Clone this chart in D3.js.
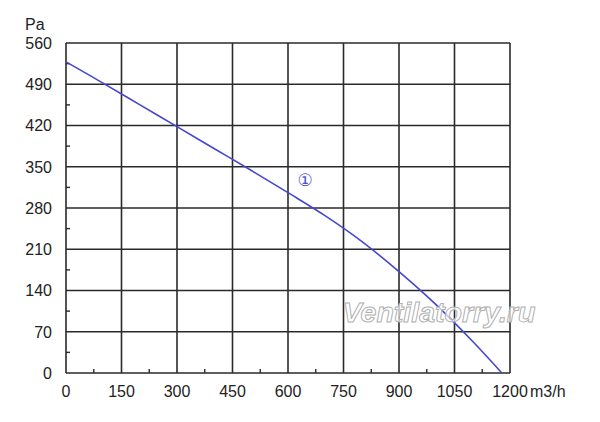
<!DOCTYPE html>
<html><head><meta charset="utf-8">
<script src="https://cdn.jsdelivr.net/npm/d3@7"></script>
<style>body{margin:0;background:#fff}svg{display:block}</style>
</head><body>
<svg id="c" width="600" height="422"></svg>
<script>
const flow = [0, 100, 200, 300, 400, 500, 600, 700, 800, 900, 1000, 1100, 1178];
const pressure = [528, 492, 455, 418, 381, 344, 306, 267, 223, 172, 116, 53, 0];
const xTicks = [0, 150, 300, 450, 600, 750, 900, 1050, 1200];
const yTicks = [0, 70, 140, 210, 280, 350, 420, 490, 560];
const xMinor = [75, 225, 375, 525, 675, 825, 975, 1125];
const yMinor = [35, 105, 175, 245, 315, 385, 455, 525];

const svg = d3.select("#c");
const x = d3.scaleLinear().domain([0, 1200]).range([66, 510]);
const y = d3.scaleLinear().domain([0, 560]).range([373, 43]);
const font = "Liberation Sans, Arial, sans-serif";
const gridColor = "#2a2a2a";

// grid
svg.append("g").selectAll("line").data(xTicks).join("line")
  .attr("x1", d => x(d)).attr("x2", d => x(d)).attr("y1", y(0)).attr("y2", y(560))
  .attr("stroke", gridColor).attr("stroke-width", 1.6);
svg.append("g").selectAll("line").data(yTicks).join("line")
  .attr("y1", d => y(d)).attr("y2", d => y(d)).attr("x1", x(0)).attr("x2", x(1200))
  .attr("stroke", gridColor).attr("stroke-width", 1.6);
// minor ticks
svg.append("g").selectAll("line").data(xMinor).join("line")
  .attr("x1", d => x(d)).attr("x2", d => x(d)).attr("y1", y(0)).attr("y2", y(0) - 4)
  .attr("stroke", gridColor).attr("stroke-width", 1.4);
svg.append("g").selectAll("line").data(yMinor).join("line")
  .attr("y1", d => y(d)).attr("y2", d => y(d)).attr("x1", x(0)).attr("x2", x(0) + 4)
  .attr("stroke", gridColor).attr("stroke-width", 1.4);

// tick labels
svg.append("g").selectAll("text").data(xTicks).join("text")
  .attr("x", d => x(d)).attr("y", 397).attr("text-anchor", "middle")
  .attr("font-family", font).attr("font-size", 16).attr("fill", "#222").text(d => d);
svg.append("g").selectAll("text").data(yTicks).join("text")
  .attr("x", 52).attr("y", d => y(d)).attr("dy", "0.36em").attr("text-anchor", "end")
  .attr("font-family", font).attr("font-size", 16).attr("fill", "#222").text(d => d);
svg.append("text").attr("x", 530).attr("y", 397).attr("font-family", font)
  .attr("font-size", 16).attr("fill", "#222").text("m3/h");
svg.append("text").attr("x", 25).attr("y", 30).attr("font-family", font)
  .attr("font-size", 16).attr("fill", "#222").text("Pa");

// curve
const pts = flow.map((f, i) => [f, pressure[i]]);
svg.append("path").datum(pts)
  .attr("d", d3.line().x(d => x(d[0])).y(d => y(d[1])).curve(d3.curveCatmullRom.alpha(0.5)))
  .attr("fill", "none").attr("stroke", "#4646d2").attr("stroke-width", 1.6);

// curve label
svg.append("text").attr("x", 305).attr("y", 180).attr("dy", "0.35em").attr("text-anchor", "middle")
  .attr("font-family", "DejaVu Sans, sans-serif").attr("font-size", 17).attr("fill", "#5050c8").text("①");

// watermark
svg.append("text").attr("x", 439).attr("y", 322).attr("text-anchor", "middle")
  .attr("font-family", font).attr("font-style", "italic").attr("font-weight", "bold").attr("font-size", 28.5)
  .attr("fill", "#fff").attr("fill-opacity", 0.7).attr("stroke", "#b0b0b0").attr("stroke-width", 1)
  .text("Ventilatorry.ru");
</script>
</body></html>
